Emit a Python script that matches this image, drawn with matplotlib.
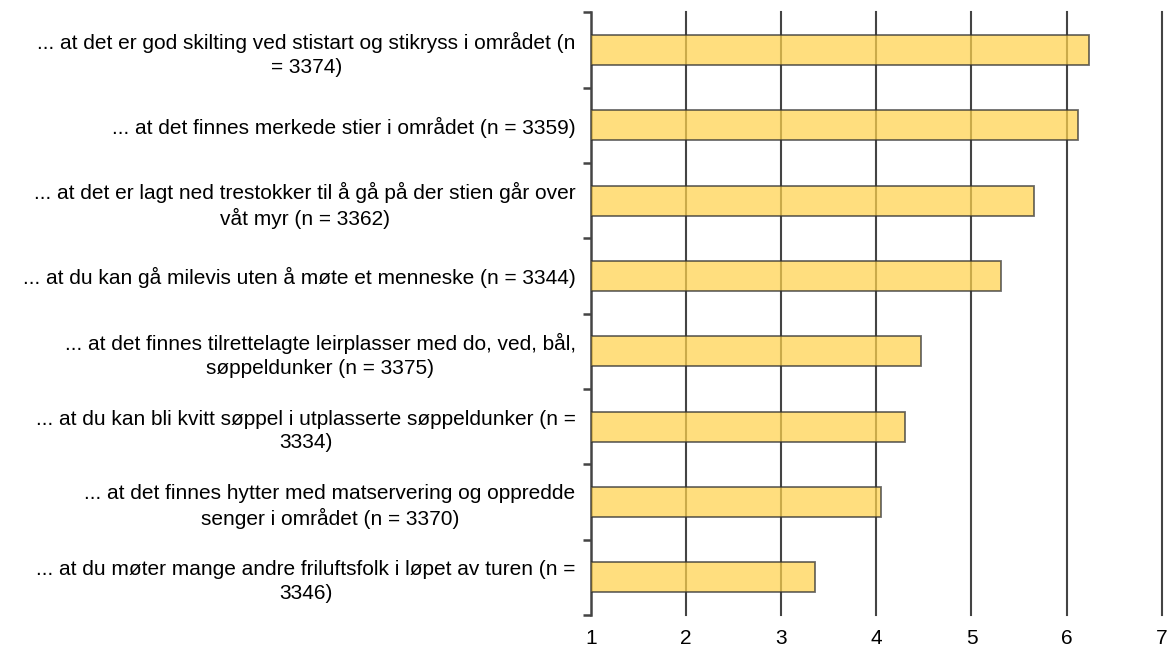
import matplotlib.pyplot as plt
import numpy as np

plt.rcParams['font.family'] = ['Liberation Sans', 'DejaVu Sans']

labels = [
    '... at det er god skilting ved stistart og stikryss i området (n\n= 3374)',
    '... at det finnes merkede stier i området (n = 3359)',
    '... at det er lagt ned trestokker til å gå på der stien går over\nvåt myr (n = 3362)',
    '... at du kan gå milevis uten å møte et menneske (n = 3344)',
    '... at det finnes tilrettelagte leirplasser med do, ved, bål,\nsøppeldunker (n = 3375)',
    '... at du kan bli kvitt søppel i utplasserte søppeldunker (n =\n3334)',
    '... at det finnes hytter med matservering og oppredde\nsenger i området (n = 3370)',
    '... at du møter mange andre friluftsfolk i løpet av turen (n =\n3346)',
]
values = [6.23, 6.12, 5.66, 5.31, 4.47, 4.30, 4.05, 3.36]
x_ticks = [1, 2, 3, 4, 5, 6, 7]

fig = plt.figure(figsize=(11.7, 6.48), dpi=100)
ax = fig.add_axes([0.505, 0.051, 0.488, 0.930])

y = np.arange(len(labels))
ax.barh(y, [v - 1 for v in values], left=1, height=0.4,
        color='#FFD24D', alpha=0.72, edgecolor='#333333', linewidth=1.3,
        zorder=3)

ax.set_xlim(1, 7)
ax.set_ylim(len(labels) - 0.5, -0.5)
ax.set_xticks(x_ticks)
ax.set_xticklabels([str(t) for t in x_ticks])
ax.tick_params(axis='x', length=0, labelsize=15, pad=10)

for t in x_ticks[1:]:
    ax.axvline(t, color='#444444', linewidth=1.5, zorder=1, clip_on=False)

ax.set_yticks(y)
ax.set_yticklabels(labels, multialignment='center', linespacing=1.3)
ax.tick_params(axis='y', which='major', length=0, labelsize=15, pad=11)
ax.set_yticks(np.arange(-0.5, len(labels)), minor=True)
ax.tick_params(axis='y', which='minor', length=6, width=1.8, color='#444444')

for s in ['top', 'right', 'bottom']:
    ax.spines[s].set_visible(False)
ax.spines['left'].set_color('#444444')
ax.spines['left'].set_linewidth(1.8)

fig.savefig('out.png', dpi=100)
